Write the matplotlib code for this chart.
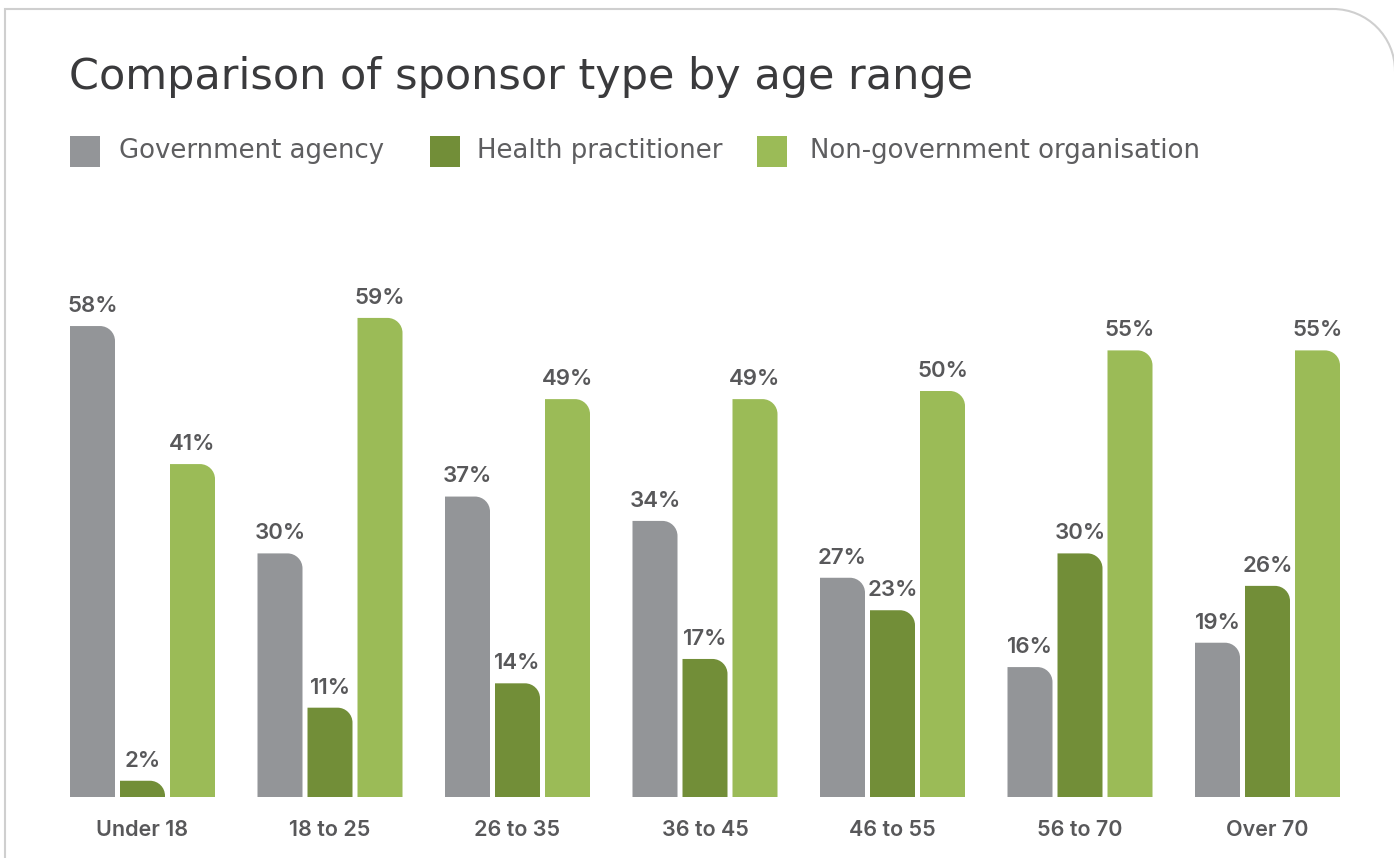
import matplotlib
matplotlib.use("Agg")
import matplotlib.pyplot as plt
from matplotlib.path import Path
from matplotlib.patches import PathPatch, Rectangle
import numpy as np

categories = ["Under 18", "18 to 25", "26 to 35", "36 to 45", "46 to 55", "56 to 70", "Over 70"]
series_names = ["Government agency", "Health practitioner", "Non-government organisation"]
government = [58, 30, 37, 34, 27, 16, 19]
health = [2, 11, 14, 17, 23, 30, 26]
ngo = [41, 59, 49, 49, 50, 55, 55]
colors = ["#939598", "#728e38", "#9bbb57"]
title = "Comparison of sponsor type by age range"

W, H = 1394, 858
fig = plt.figure(figsize=(W / 100, H / 100), dpi=100)
LABEL_FONT = ["Inter", "DejaVu Sans"]
TEXT_FONT = ["DejaVu Sans"]

# axes placement (pixels)
step = 187.5
c0 = 142.5
left_px = c0 - step / 2
base_px = 797
top_px = 200
ax = fig.add_axes([left_px / W, (H - base_px) / H, 7 * step / W, (base_px - top_px) / H])
px_per_unit = 8.12
ax.set_xlim(-0.5, 6.5)
ax.set_ylim(0, (base_px - top_px) / px_per_unit)
ax.axis("off")

bw = 45 / step
off = 50 / step
r_px = 15
rx = r_px / step
ry = r_px / px_per_unit


def rbar(x0, w, h, color):
    r_y = min(ry, h)
    r_x = rx * (r_y / ry)
    k = 0.5523
    verts = [(x0, 0), (x0, h), (x0 + w - r_x, h),
             (x0 + w - r_x + k * r_x, h), (x0 + w, h - r_y + k * r_y), (x0 + w, h - r_y),
             (x0 + w, 0), (x0, 0)]
    codes = [Path.MOVETO, Path.LINETO, Path.LINETO,
             Path.CURVE4, Path.CURVE4, Path.CURVE4,
             Path.LINETO, Path.CLOSEPOLY]
    ax.add_patch(PathPatch(Path(verts, codes), facecolor=color, edgecolor="none"))


x = np.arange(len(categories))
for j, vals in enumerate([government, health, ngo]):
    for i, v in enumerate(vals):
        xc = x[i] + (j - 1) * off
        rbar(xc - bw / 2, bw, v, colors[j])
        ax.annotate(f"{v}%", (xc, v), xytext=(0, 10.2), textcoords="offset points",
                    ha="center", va="baseline", fontsize=16, fontweight="semibold",
                    color="#58585a", family=LABEL_FONT)
for i, c in enumerate(categories):
    ax.annotate(c, (x[i], 0), xytext=(0, -28), textcoords="offset points",
                ha="center", va="baseline", fontsize=15.5, fontweight="semibold",
                color="#58585a", family=LABEL_FONT)

# title
fig.text(69 / W, 1 - 89 / H, title, fontsize=31, color="#3a3a3c", family=TEXT_FONT,
         ha="left", va="baseline")

# legend
leg_x = [70, 430, 757]
txt_x = [119, 477, 810]
for j, name in enumerate(series_names):
    fig.patches.append(Rectangle((leg_x[j] / W, 1 - 166.5 / H), 29.5 / W, 30.5 / H,
                                 transform=fig.transFigure, facecolor=colors[j],
                                 edgecolor="none"))
    fig.text(txt_x[j] / W, 1 - 158.5 / H, name, fontsize=18.7, color="#5e5e60",
             family=TEXT_FONT, fontweight="normal", ha="left", va="baseline")

# frame border with rounded top-right corner
R = 62
fx, fy = 5, 9
k = 0.5523
verts = [(fx, H + 10), (fx, fy), (1333, fy),
         (1333 + k * R, fy), (1333 + R, fy + R - k * R), (1333 + R, fy + R)]
codes = [Path.MOVETO, Path.LINETO, Path.LINETO, Path.CURVE4, Path.CURVE4, Path.CURVE4]
verts = [(vx / W, 1 - vy / H) for vx, vy in verts]
fig.patches.append(PathPatch(Path(verts, codes), transform=fig.transFigure,
                             facecolor="none", edgecolor="#cfcfcf", linewidth=1.5))

fig.savefig("out.png", dpi=100)
